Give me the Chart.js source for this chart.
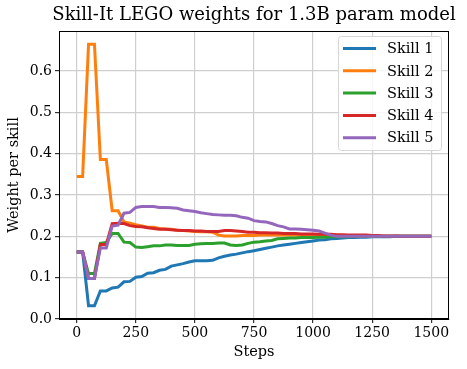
<!DOCTYPE html>
<html>
<head>
<meta charset="utf-8">
<script src="https://cdn.jsdelivr.net/npm/chart.js@4.4.1/dist/chart.umd.min.js"></script>
<style>
  html, body { margin: 0; padding: 0; background: #fff; }
  #wrap { width: 467px; height: 369px; }
</style>
</head>
<body>
<div id="wrap"><canvas id="chart" width="467" height="369"></canvas></div>
<script>
// training steps, sampled every 25
const steps = [];
for (let s = 0; s <= 1500; s += 25) steps.push(s);

const skillNames = ["Skill 1", "Skill 2", "Skill 3", "Skill 4", "Skill 5"];
const skillColors = ["#1f77b4", "#ff7f0e", "#2ca02c", "#d62728", "#9467bd"];

const skill1 = [0.162, 0.162, 0.032, 0.032, 0.068, 0.068, 0.075, 0.077, 0.090, 0.091,
  0.101, 0.103, 0.111, 0.112, 0.118, 0.120, 0.128, 0.131, 0.134, 0.138,
  0.141, 0.141, 0.141, 0.142, 0.148, 0.152, 0.155, 0.157, 0.160, 0.163,
  0.165, 0.168, 0.171, 0.174, 0.177, 0.179, 0.181, 0.183, 0.185, 0.187,
  0.189, 0.191, 0.192, 0.194, 0.195, 0.196, 0.197, 0.197, 0.198, 0.198,
  0.199, 0.199, 0.199, 0.199, 0.200, 0.200, 0.200, 0.200, 0.200, 0.200, 0.200];
const skill2 = [0.345, 0.345, 0.665, 0.665, 0.386, 0.386, 0.262, 0.262, 0.235, 0.232,
  0.228, 0.225, 0.222, 0.222, 0.219, 0.218, 0.217, 0.215, 0.214, 0.213,
  0.212, 0.211, 0.211, 0.210, 0.203, 0.201, 0.201, 0.201, 0.202, 0.202,
  0.202, 0.203, 0.203, 0.203, 0.203, 0.203, 0.203, 0.203, 0.203, 0.202,
  0.202, 0.202, 0.202, 0.202, 0.201, 0.201, 0.201, 0.201, 0.200, 0.200,
  0.200, 0.200, 0.200, 0.200, 0.200, 0.200, 0.200, 0.200, 0.200, 0.200, 0.200];
const skill3 = [0.162, 0.162, 0.110, 0.110, 0.183, 0.185, 0.207, 0.207, 0.186, 0.185,
  0.174, 0.173, 0.175, 0.177, 0.177, 0.179, 0.179, 0.178, 0.178, 0.178,
  0.181, 0.182, 0.183, 0.183, 0.184, 0.184, 0.179, 0.178, 0.179, 0.183,
  0.186, 0.187, 0.189, 0.190, 0.194, 0.195, 0.196, 0.196, 0.197, 0.197,
  0.197, 0.198, 0.198, 0.199, 0.199, 0.199, 0.199, 0.200, 0.200, 0.200,
  0.200, 0.200, 0.200, 0.200, 0.200, 0.200, 0.200, 0.200, 0.200, 0.200, 0.200];
const skill4 = [0.162, 0.162, 0.098, 0.098, 0.180, 0.180, 0.231, 0.232, 0.231, 0.226,
  0.224, 0.223, 0.221, 0.219, 0.217, 0.217, 0.216, 0.215, 0.214, 0.214,
  0.213, 0.213, 0.212, 0.212, 0.212, 0.214, 0.214, 0.213, 0.212, 0.210,
  0.210, 0.209, 0.209, 0.208, 0.208, 0.207, 0.207, 0.207, 0.206, 0.206,
  0.206, 0.205, 0.205, 0.205, 0.204, 0.204, 0.203, 0.203, 0.203, 0.203,
  0.202, 0.202, 0.201, 0.201, 0.201, 0.200, 0.200, 0.200, 0.200, 0.200, 0.200];
const skill5 = [0.162, 0.162, 0.098, 0.098, 0.172, 0.172, 0.225, 0.227, 0.256, 0.258,
  0.270, 0.272, 0.272, 0.272, 0.270, 0.270, 0.269, 0.268, 0.264, 0.262,
  0.260, 0.257, 0.255, 0.253, 0.252, 0.251, 0.251, 0.250, 0.246, 0.244,
  0.238, 0.236, 0.235, 0.231, 0.226, 0.223, 0.218, 0.218, 0.217, 0.216,
  0.215, 0.213, 0.208, 0.203, 0.200, 0.200, 0.200, 0.200, 0.200, 0.200,
  0.200, 0.200, 0.200, 0.200, 0.200, 0.200, 0.200, 0.200, 0.200, 0.200, 0.200];

const xTicks = [0, 250, 500, 750, 1000, 1250, 1500];
const yTicks = [0, 0.1, 0.2, 0.3, 0.4, 0.5, 0.6];

const titleText = "Skill-It LEGO weights for 1.3B param model";
const FONT = "'DejaVu Serif', serif";

const series = [skill1, skill2, skill3, skill4, skill5];

// title, top/right spines and the legend box
const decor = {
  id: "decor",
  afterDraw(chart) {
    const ctx = chart.ctx;
    const a = chart.chartArea;
    ctx.save();
    ctx.strokeStyle = "#000";
    ctx.lineWidth = 1;
    ctx.strokeRect(a.left + 0.5, a.top + 0.5, a.right - a.left - 1, a.bottom - a.top - 1);

    ctx.fillStyle = "#000";
    ctx.font = "18px " + FONT;
    ctx.textAlign = "center";
    ctx.textBaseline = "middle";
    ctx.fillText(titleText, (a.left + a.right) / 2, 15);

    // legend
    const bx = 338, by = 36, bw = 103, bh = 114;
    ctx.fillStyle = "rgba(255,255,255,0.8)";
    ctx.strokeStyle = "#d6d6d6";
    ctx.beginPath();
    ctx.roundRect(bx + 0.5, by + 0.5, bw, bh, 3);
    ctx.fill();
    ctx.stroke();
    ctx.font = "14.5px " + FONT;
    ctx.textAlign = "left";
    skillNames.forEach((name, i) => {
      const y = by + 12.5 + i * 22.3;
      ctx.strokeStyle = skillColors[i];
      ctx.lineWidth = 3;
      ctx.beginPath();
      ctx.moveTo(343, y);
      ctx.lineTo(376, y);
      ctx.stroke();
      ctx.fillStyle = "#000";
      ctx.fillText(name, 387, y + 1);
    });
    ctx.restore();
  }
};

new Chart(document.getElementById("chart"), {
  type: "line",
  data: {
    datasets: series.map((vals, i) => ({
      label: skillNames[i],
      data: steps.map((s, j) => ({ x: s, y: vals[j] })),
      borderColor: skillColors[i],
      backgroundColor: skillColors[i],
      borderWidth: 3,
      pointRadius: 0,
      tension: 0,
      order: 4 - i
    }))
  },
  options: {
    responsive: false,
    animation: false,
    layout: { padding: { top: 31, right: 18, left: 0, bottom: 0 } },
    plugins: {
      legend: { display: false },
      tooltip: { enabled: false },
      title: { display: false }
    },
    scales: {
      x: {
        type: "linear",
        min: -75,
        max: 1575,
        afterBuildTicks: (scale) => { scale.ticks = xTicks.map(v => ({ value: v })); },
        afterFit: (scale) => { scale.height = 50; },
        grid: { color: "#cfcfcf", lineWidth: 1.2, tickLength: 4, tickColor: "#333" },
        border: { color: "#000", width: 1 },
        ticks: { color: "#000", font: { family: FONT, size: 14 }, padding: 2, maxRotation: 0, callback: (v) => String(v) },
        title: { display: true, text: "Steps", color: "#000", font: { family: FONT, size: 14.5 }, padding: { top: 0, bottom: 8 } }
      },
      y: {
        type: "linear",
        min: 0,
        max: 0.697,
        afterBuildTicks: (scale) => { scale.ticks = yTicks.map(v => ({ value: v })); },
        afterFit: (scale) => { scale.width = 59; },
        grid: { color: "#cfcfcf", lineWidth: 1.2, tickLength: 4, tickColor: "#333" },
        border: { color: "#000", width: 1 },
        ticks: { color: "#000", font: { family: FONT, size: 14 }, padding: 3, callback: (v) => v.toFixed(1) },
        title: { display: true, text: "Weight per skill", color: "#000", font: { family: FONT, size: 14.5 }, padding: { top: 6, bottom: 0 } }
      }
    }
  },
  plugins: [decor]
});
</script>
</body>
</html>
